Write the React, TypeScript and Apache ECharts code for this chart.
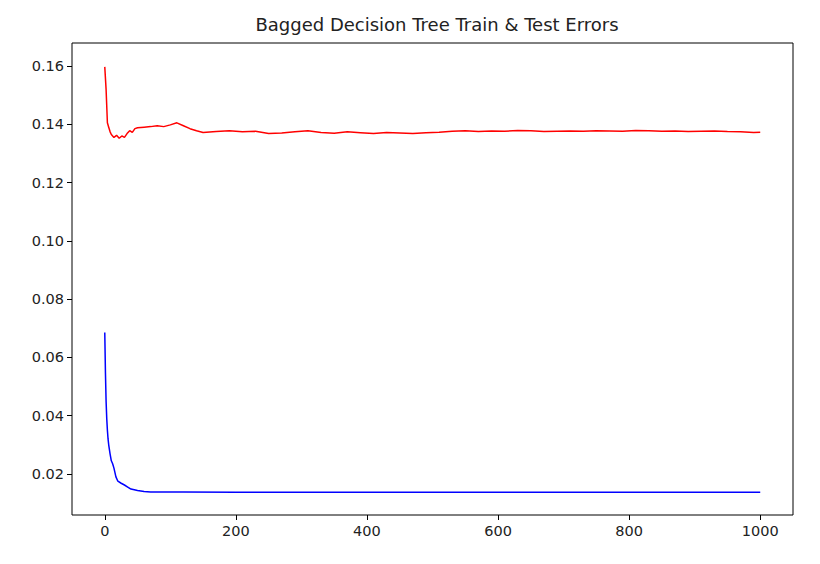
import { useEffect, useRef } from 'react';
import * as echarts from 'echarts';

const testX = [0, 2, 4, 6, 8, 10, 14, 18, 22, 26, 30, 34, 38, 42, 46, 50, 60, 70, 80, 90, 100, 110, 120, 130, 140, 150, 170, 190, 210, 230, 250, 270, 290, 310, 330, 350, 370, 390, 410, 430, 450, 470, 490, 510, 530, 550, 570, 590, 610, 630, 650, 670, 690, 710, 730, 750, 770, 790, 810, 830, 850, 870, 890, 910, 930, 950, 970, 990, 1000];
const testErr = [0.1597, 0.152, 0.1405, 0.139, 0.1375, 0.1365, 0.1355, 0.1362, 0.1352, 0.136, 0.1355, 0.1368, 0.1378, 0.1372, 0.1385, 0.1388, 0.139, 0.1392, 0.1395, 0.1392, 0.1398, 0.1405, 0.1395, 0.1385, 0.1378, 0.1372, 0.1375, 0.1378, 0.1374, 0.1376, 0.1368, 0.137, 0.1374, 0.1378, 0.1372, 0.1369, 0.1374, 0.1371, 0.1368, 0.1372, 0.137, 0.1368, 0.1371, 0.1373, 0.1376, 0.1378, 0.1375, 0.1377, 0.1376, 0.1379, 0.1378, 0.1375, 0.1376, 0.1377, 0.1376, 0.1378, 0.1377, 0.1376, 0.1379, 0.1378, 0.1376, 0.1377, 0.1375, 0.1376, 0.1377, 0.1375, 0.1374, 0.1372, 0.1373];

const trainX = [0, 1, 2, 3, 4, 5, 6, 8, 10, 12, 14, 17, 20, 25, 30, 35, 40, 50, 60, 70, 80, 100, 120, 200, 400, 600, 800, 1000];
const trainErr = [0.0685, 0.055, 0.045, 0.039, 0.035, 0.032, 0.03, 0.027, 0.0245, 0.0235, 0.022, 0.019, 0.0175, 0.0168, 0.0162, 0.0155, 0.0148, 0.0143, 0.014, 0.0138, 0.0138, 0.0138, 0.0138, 0.0137, 0.0137, 0.0137, 0.0137, 0.0137];

const xTicks = [0, 200, 400, 600, 800, 1000];
const yTicks = [0.02, 0.04, 0.06, 0.08, 0.1, 0.12, 0.14, 0.16];

export default function App() {
  const ref = useRef<HTMLDivElement>(null);
  useEffect(() => {
    if (!ref.current) return;
    const chart = echarts.init(ref.current, undefined, { renderer: 'svg' });
    const font = { fontFamily: 'DejaVu Sans', fontSize: 14.5, color: '#222' };
    chart.setOption({
      animation: false,
      title: {
        text: 'Bagged Decision Tree Train & Test Errors',
        left: 432, top: 10, textAlign: 'center',
        textStyle: { fontFamily: 'DejaVu Sans', fontSize: 18, fontWeight: 'normal', color: '#222' },
      },
      grid: { left: 72, right: 27, top: 43, bottom: 49, show: true, borderColor: '#000', borderWidth: 1 },
      xAxis: {
        type: 'value', min: -50, max: 1050,
        axisLine: { show: false, onZero: false },
        splitLine: { show: false },
        axisTick: { show: true, inside: false, length: 5, customValues: xTicks, lineStyle: { color: '#000' } },
        axisLabel: { ...font, margin: 8, customValues: xTicks, formatter: (v: number) => String(v) },
      },
      yAxis: {
        type: 'value', min: 0.0059, max: 0.1679,
        axisLine: { show: false, onZero: false },
        splitLine: { show: false },
        axisTick: { show: true, inside: false, length: 5, customValues: yTicks, lineStyle: { color: '#000' } },
        axisLabel: { ...font, margin: 8, customValues: yTicks, formatter: (v: number) => v.toFixed(2) },
      },
      series: [
        {
          type: 'line', data: testX.map((x, i) => [x, testErr[i]]), showSymbol: false,
          lineStyle: { color: '#ff0000', width: 1.5 },
        },
        {
          type: 'line', data: trainX.map((x, i) => [x, trainErr[i]]), showSymbol: false,
          lineStyle: { color: '#0000ff', width: 1.5 },
        },
      ],
    });
    return () => chart.dispose();
  }, []);
  return <div ref={ref} style={{ position: 'fixed', left: 0, top: 0, width: 820, height: 564, background: '#fff' }} />;
}
